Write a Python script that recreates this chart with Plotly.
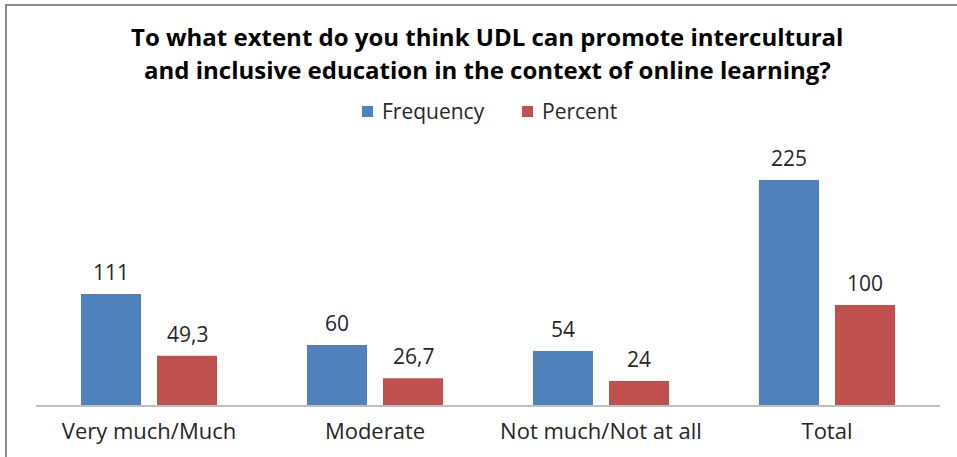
import plotly.graph_objects as go

categories = ["Very much/Much", "Moderate", "Not much/Not at all", "Total"]
frequency = [111, 60, 54, 225]
percent = [49.3, 26.7, 24, 100]
series_names = ["Frequency", "Percent"]

BLUE = "#4F81BD"
RED = "#C0504D"
FONT = "Open Sans"
TEXT = "#262626"

# plot area: x 36..940 px, y 145..405 px (1 px per unit on the value axis)
Y_MAX = 260


def fmt(v):
    return f"{v:g}".replace(".", ",")


def py(px):
    """Paper y coordinate for a pixel row of the 457 px tall page."""
    return (405 - px) / Y_MAX


def pxx(px):
    """Paper x coordinate for a pixel column of the 957 px wide page."""
    return (px - 36) / 904


fig = go.Figure()
fig.add_trace(go.Bar(name=series_names[0], x=categories, y=frequency,
                     marker=dict(color=BLUE, line=dict(width=0))))
fig.add_trace(go.Bar(name=series_names[1], x=categories, y=percent,
                     marker=dict(color=RED, line=dict(width=0))))

annotations = []
for series, shift in ((frequency, -38), (percent, 38)):
    for c, v in zip(categories, series):
        annotations.append(dict(x=c, y=v, xref="x", yref="y", text=fmt(v),
                                showarrow=False, xshift=shift, yshift=22,
                                yanchor="middle",
                                font=dict(family=FONT, size=21, color=TEXT)))

title_lines = [
    ("To what extent do you think UDL can promote intercultural", 37),
    ("and inclusive education in the context of online learning?", 70),
]
for line, row in title_lines:
    annotations.append(dict(
        x=pxx(487), y=py(row), xref="paper", yref="paper",
        xanchor="center", yanchor="middle", showarrow=False,
        text=f"<b>{line}</b>",
        font=dict(family=FONT, size=24, color="#000000")))

# legend: coloured square followed by the series name
shapes = []
for name, color, sq_left in ((series_names[0], BLUE, 362),
                             (series_names[1], RED, 522)):
    shapes.append(dict(type="rect", xref="paper", yref="paper",
                       x0=pxx(sq_left), x1=pxx(sq_left + 11),
                       y0=py(106), y1=py(117),
                       fillcolor=color, line=dict(width=0)))
    annotations.append(dict(x=pxx(sq_left + 18), y=py(111), xref="paper",
                            yref="paper", xanchor="left", yanchor="middle",
                            showarrow=False, text=name,
                            font=dict(family=FONT, size=21, color=TEXT)))

# frame lines along the top and left edges
shapes += [
    dict(type="line", xref="paper", yref="paper",
         x0=pxx(5), x1=pxx(957), y0=py(5), y1=py(5),
         line=dict(color="#8C8C8C", width=2)),
    dict(type="line", xref="paper", yref="paper",
         x0=pxx(6), x1=pxx(6), y0=py(5), y1=py(457),
         line=dict(color="#8C8C8C", width=2)),
]

fig.update_layout(
    width=957, height=457,
    margin=dict(l=36, r=17, t=145, b=52),
    paper_bgcolor="white", plot_bgcolor="white",
    barmode="group", bargap=0.327, bargroupgap=0.2105,
    showlegend=False,
    annotations=annotations,
    shapes=shapes,
    xaxis=dict(showline=True, linecolor="#BFBFBF", linewidth=2, ticks="",
               tickfont=dict(family=FONT, size=22, color=TEXT),
               ticklabelstandoff=6, fixedrange=True),
    yaxis=dict(range=[0, Y_MAX], visible=False, showgrid=False,
               zeroline=False),
)

fig.write_html("out.html")
